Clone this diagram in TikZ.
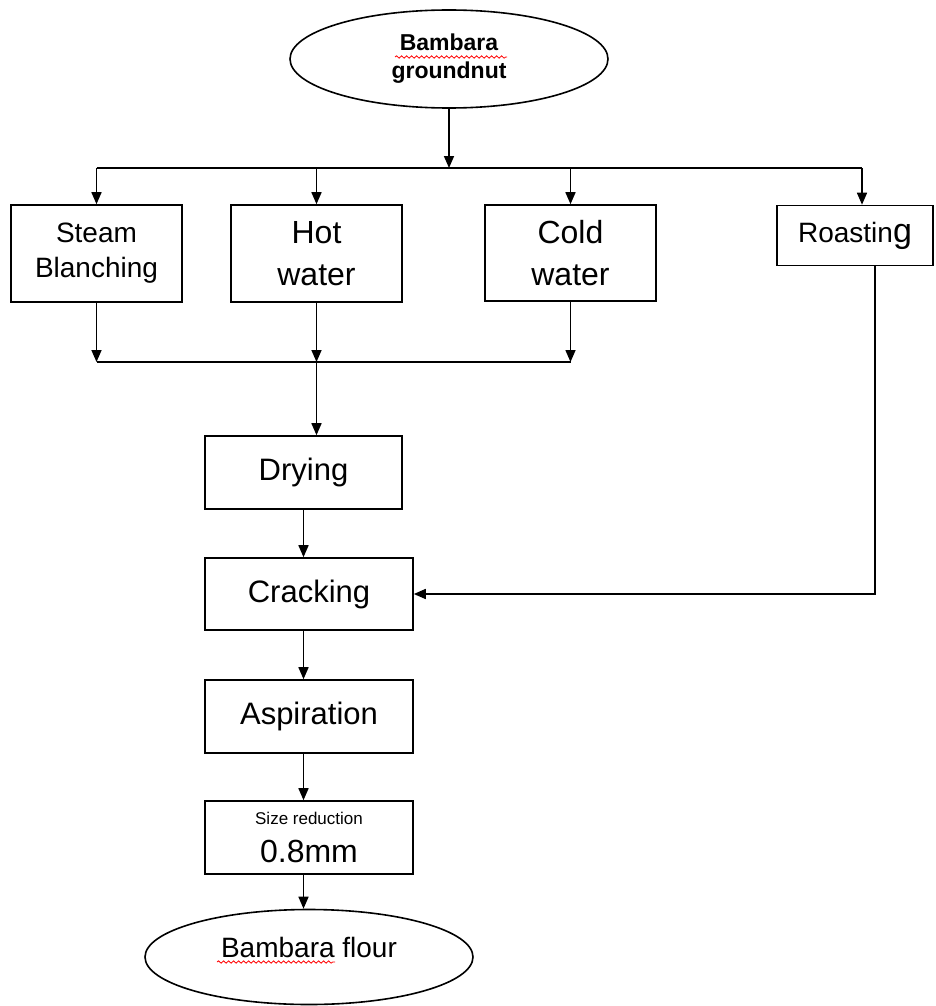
\documentclass[tikz,border=0pt]{standalone}
\usepackage{fontspec}
\setmainfont{Liberation Sans}
\usetikzlibrary{shapes.geometric,arrows.meta,decorations.pathmorphing}

\begin{document}
\begin{tikzpicture}[x=0.5pt,y=-0.5pt,line width=0.8pt,>={Triangle[width=5pt,length=6pt]}]
  \useasboundingbox (0,0) rectangle (936,1006);

        \begin{scope}[every node/.style={draw,rectangle,align=center,inner sep=0pt}]
          \node[ellipse,minimum width=159pt,minimum height=49pt,font=\fontsize{11.5}{14}\selectfont\bfseries] (1) at (449,59) {Bambara\\groundnut};
          \node[minimum width=85.5pt,minimum height=48.5pt,font=\fontsize{14}{17.5}\selectfont] (2) at (96.5,253.5) {Steam\\Blanching};
          \node[minimum width=85.5pt,minimum height=48.5pt,font=\fontsize{16}{21}\selectfont] (3) at (316.5,253.5) {Hot\\water};
          \node[minimum width=85.5pt,minimum height=48pt,font=\fontsize{16}{21}\selectfont] (4) at (570.5,253) {Cold\\water};
          \node[minimum width=78pt,minimum height=30pt,font=\fontsize{14}{17}\selectfont] (5) at (855,235.5) {Roastin{\fontsize{17}{17}\selectfont g}};
          \node[minimum width=98.5pt,minimum height=36.5pt,font=\fontsize{15.5}{18}\selectfont] (6) at (303.5,472.5) {Drying};
          \node[minimum width=104pt,minimum height=36pt,font=\fontsize{15.5}{18}\selectfont] (7) at (309,594) {Cracking};
          \node[minimum width=104pt,minimum height=36.5pt,font=\fontsize{15.5}{18}\selectfont] (8) at (309,716.5) {Aspiration};
          \node[minimum width=104pt,minimum height=36.5pt,font=\fontsize{16}{18}\selectfont] (9) at (309,837.5) {{\fontsize{8.5}{10}\selectfont Size reduction}\\[1pt]0.8mm};
          \node[ellipse,minimum width=164pt,minimum height=47.5pt,text height=10pt,text depth=10pt,font=\fontsize{14}{17}\selectfont] (10) at (309,957) {Bambara flour};
        \end{scope}

        \coordinate (a) at (449,168);
        \coordinate (b) at (316.5,362);

        % spell-check marks
        \begin{scope}[red,line width=0.4pt,decoration={snake,amplitude=0.6pt,segment length=2.5pt}]
          \draw[decorate] (395,57) -- (507,57);
          \draw[decorate] (217,962) -- (335,962);
        \end{scope}

        \draw[->] (1) -- (a);
        \draw (2 |- a) -- ([xshift=3.5pt]5.north |- a);
        \draw[->] (2 |- a) -- (2);
        \draw[->] (3 |- a) -- (3);
        \draw[->] (4 |- a) -- (4);
        \draw[->] ([xshift=3.5pt]5.north |- a) -- ([xshift=3.5pt]5.north);

        \draw[->] (2) -- (2 |- b);
        \draw[->] (3) -- (b);
        \draw[->] (4) -- (4 |- b);
        \draw (2 |- b) -- (4 |- b);
        \draw[->] (b) -- (b |- 6.north);

        \draw[->] (6.south) -- (6.south |- 7.north);
        \draw[->] (6.south |- 7.south) -- (6.south |- 8.north);
        \draw[->] (6.south |- 8.south) -- (6.south |- 9.north);
        \draw[->] (6.south |- 9.south) -- (6.south |- 10.north);
        \draw[->] ([xshift=10pt]5.south) |- (7);

      \end{tikzpicture}
\end{document}
